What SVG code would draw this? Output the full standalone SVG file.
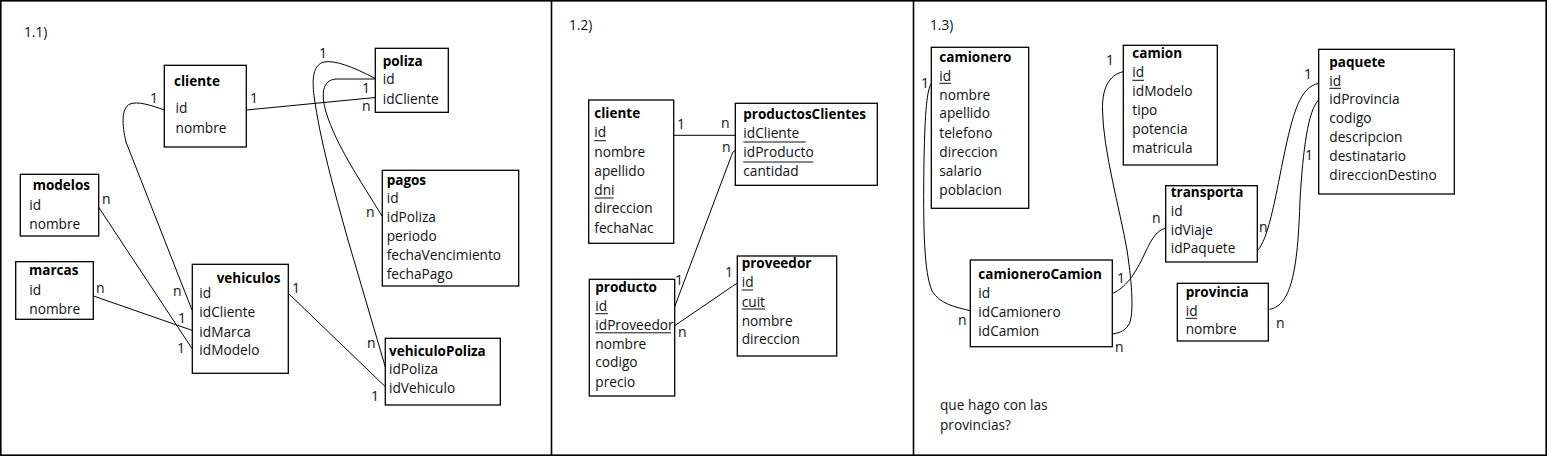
<svg xmlns="http://www.w3.org/2000/svg" width="1552" height="458" viewBox="0 0 1552 458">
<style>
.bg{fill:#fff}
.frame{fill:none;stroke:#000;stroke-width:1.6}
.box{fill:#fff;stroke:#000;stroke-width:1.3}
.t{font-family:"Open Sans","Noto Sans","DejaVu Sans",sans-serif;font-size:13.7px;fill:#111}
.h{font-family:"Open Sans","Noto Sans","DejaVu Sans",sans-serif;font-size:13.5px;font-weight:bold;fill:#000}
.c{font-family:"Open Sans","Noto Sans","DejaVu Sans",sans-serif;font-size:14px;fill:#111}
.u{stroke:#111;stroke-width:1}
.ln{fill:none;stroke:#000;stroke-width:1}
</style>
<rect class="bg" x="0" y="0" width="1552" height="458"/>
<rect class="frame" x="0.8" y="0.8" width="1545.4" height="454.4"/>
<line class="frame" x1="551.5" y1="0" x2="551.5" y2="456"/>
<line class="frame" x1="913.5" y1="0" x2="913.5" y2="456"/>
<text class="t" x="24" y="37">1.1)</text>
<text class="t" x="569" y="30">1.2)</text>
<text class="t" x="930" y="30">1.3)</text>

<g id="connectors">
<!-- 1.1 -->
<path class="ln" d="M246.5,110 L375.3,97.5"/>
<path class="ln" d="M376,79 C352,66 334,60 324,62 C313,65 312,78 314,96 C320,140 334,190 348,240 L385.3,367"/>
<path class="ln" d="M376,79 L336,79 C322,80 321,95 326,112 C336,145 360,180 382,216"/>
<path class="ln" d="M164.5,110 C150,105 138,101 130,104 C121,108 122,125 126,142 L192,310"/>
<path class="ln" d="M98.5,207 L192,348.5"/>
<path class="ln" d="M93.5,296 L192.5,330.5"/>
<path class="ln" d="M288.5,293.5 L385.3,386.7"/>
<!-- 1.2 -->
<path class="ln" d="M673.7,135.3 L735.3,135.3"/>
<path class="ln" d="M735.5,150 Q732,152 731.5,155.5 L674.7,306.7"/>
<path class="ln" d="M674.7,325.7 L727,290 Q733,285.5 737.3,283.3"/>
<!-- 1.3 -->
<path class="ln" d="M931.3,83.3 C927,90 925,110 924,160 C923,230 924,272 932,291 C940,304 955,307 970.3,310.7"/>
<path class="ln" d="M1123.3,71.7 C1108,75 1102,90 1102.5,110 C1103,150 1120,210 1127,250 C1133,290 1133,312 1130,322 C1127,330 1120,333 1112.3,334"/>
<path class="ln" d="M1112.5,293.5 C1125,288 1135,275 1145,253 C1152,238 1157,230 1165.7,228.3"/>
<path class="ln" d="M1257.3,250.7 C1268,240 1275,200 1283,160 C1293,112 1300,87 1318.7,83.3"/>
<path class="ln" d="M1318.7,100 C1308,110 1303,150 1300,200 C1298,262 1293,306 1269.3,309.3"/>
</g>

<g id="cardinalities">
<text class="c" x="250" y="103">1</text>
<text class="c" x="362" y="93">1</text>
<text class="c" x="362" y="111">n</text>
<text class="c" x="319" y="58">1</text>
<text class="c" x="366" y="217">n</text>
<text class="c" x="150" y="103">1</text>
<text class="c" x="173" y="296">n</text>
<text class="c" x="102" y="204">n</text>
<text class="c" x="177" y="353">1</text>
<text class="c" x="96" y="293">n</text>
<text class="c" x="178" y="323">1</text>
<text class="c" x="292" y="293">1</text>
<text class="c" x="371" y="401">1</text>
<text class="c" x="367" y="348">n</text>
<text class="c" x="677" y="129">1</text>
<text class="c" x="721" y="128">n</text>
<text class="c" x="722" y="152">n</text>
<text class="c" x="675" y="285">1</text>
<text class="c" x="725" y="277">1</text>
<text class="c" x="678" y="337">n</text>
<text class="c" x="921" y="88">1</text>
<text class="c" x="958" y="325">n</text>
<text class="c" x="1106" y="65">1</text>
<text class="c" x="1115" y="352">n</text>
<text class="c" x="1117" y="283">1</text>
<text class="c" x="1152" y="223">n</text>
<text class="c" x="1259" y="232">n</text>
<text class="c" x="1304" y="79">1</text>
<text class="c" x="1305" y="160">1</text>
<text class="c" x="1276" y="328">n</text>
</g>

<g id="cliente11">
<rect class="box" x="164.3" y="65.3" width="82" height="81.7"/>
<text class="h" x="174" y="86">cliente</text>
<text class="t" x="175.5" y="113">id</text>
<text class="t" x="175.5" y="132.7">nombre</text>
</g>
<g id="poliza">
<rect class="box" x="375.3" y="48.3" width="73" height="64"/>
<text class="h" x="382.7" y="66">poliza</text>
<text class="t" x="382.7" y="84.3">id</text>
<text class="t" x="382.7" y="103.7">idCliente</text>
</g>
<g id="modelos">
<rect class="box" x="20.3" y="174.3" width="78.4" height="61.7"/>
<text class="h" x="32.7" y="190">modelos</text>
<text class="t" x="29.3" y="210">id</text>
<text class="t" x="29.3" y="229">nombre</text>
</g>
<g id="marcas">
<rect class="box" x="15.7" y="261.7" width="77.6" height="57.6"/>
<text class="h" x="29" y="275">marcas</text>
<text class="t" x="29.3" y="295">id</text>
<text class="t" x="29.3" y="314">nombre</text>
</g>
<g id="vehiculos">
<rect class="box" x="192.3" y="264.3" width="96" height="109"/>
<text class="h" x="216.7" y="283.3">vehiculos</text>
<text class="t" x="199.3" y="298.3">id</text>
<text class="t" x="199.3" y="317.3">idCliente</text>
<text class="t" x="199.3" y="336.7">idMarca</text>
<text class="t" x="199.3" y="355.3">idModelo</text>
</g>
<g id="pagos">
<rect class="box" x="382.3" y="170.3" width="136.4" height="115.7"/>
<text class="h" x="386.7" y="185">pagos</text>
<text class="t" x="386.7" y="203.3">id</text>
<text class="t" x="386.7" y="222.3">idPoliza</text>
<text class="t" x="386.7" y="241">periodo</text>
<text class="t" x="386.7" y="260">fechaVencimiento</text>
<text class="t" x="386.7" y="279">fechaPago</text>
</g>
<g id="vehiculoPoliza">
<rect class="box" x="385.3" y="338.3" width="115" height="66.7"/>
<text class="h" x="389" y="355.7">vehiculoPoliza</text>
<text class="t" x="389" y="374">idPoliza</text>
<text class="t" x="389" y="393.3">idVehiculo</text>
</g>

<g id="cliente12">
<rect class="box" x="588.7" y="100" width="85" height="143.3"/>
<text class="h" x="594.3" y="118.3">cliente</text>
<text class="t" x="594.3" y="137.3">id</text>
<line class="u" x1="594.3" y1="140.7" x2="606" y2="140.7"/>
<text class="t" x="594.3" y="156.7">nombre</text>
<text class="t" x="594.3" y="175.7">apellido</text>
<text class="t" x="594.3" y="195">dni</text>
<line class="u" x1="594.3" y1="198" x2="613.5" y2="198"/>
<text class="t" x="594.3" y="213.3">direccion</text>
<text class="t" x="594.3" y="232.7">fechaNac</text>
</g>
<g id="productosClientes">
<rect class="box" x="735.3" y="103.3" width="142" height="82"/>
<text class="h" x="743.3" y="119.3">productosClientes</text>
<text class="t" x="743.3" y="138.3">idCliente </text>
<line class="u" x1="743.3" y1="142" x2="805.7" y2="142"/>
<text class="t" x="743.3" y="157.3">idProducto</text>
<line class="u" x1="743.3" y1="162" x2="813.3" y2="162"/>
<text class="t" x="743.3" y="176">cantidad</text>
</g>
<g id="producto">
<rect class="box" x="589.3" y="279.3" width="85.4" height="116.7"/>
<text class="h" x="595.3" y="291.7">producto</text>
<text class="t" x="595.3" y="310.7">id</text>
<line class="u" x1="595.3" y1="313.7" x2="608" y2="313.7"/>
<text class="t" x="595.3" y="330">idProveedor</text>
<line class="u" x1="595.3" y1="332.8" x2="671" y2="332.8"/>
<text class="t" x="595.3" y="349.3">nombre</text>
<text class="t" x="595.3" y="367.3">codigo</text>
<text class="t" x="595.3" y="386.7">precio</text>
</g>
<g id="proveedor">
<rect class="box" x="737.3" y="256" width="99.4" height="100"/>
<text class="h" x="741.7" y="268.3">proveedor</text>
<text class="t" x="741.7" y="287.3">id</text>
<line class="u" x1="741.7" y1="290" x2="753" y2="290"/>
<text class="t" x="741.7" y="306.7">cuit</text>
<line class="u" x1="741.7" y1="309" x2="765" y2="309"/>
<text class="t" x="741.7" y="325.7">nombre</text>
<text class="t" x="741.7" y="344">direccion</text>
</g>

<g id="camionero">
<rect class="box" x="931.3" y="47.3" width="97.4" height="161"/>
<text class="h" x="939.3" y="61.7">camionero</text>
<text class="t" x="939.3" y="80.7">id</text>
<line class="u" x1="939.3" y1="83.3" x2="951" y2="83.3"/>
<text class="t" x="939.3" y="100">nombre</text>
<text class="t" x="939.3" y="118.3">apellido</text>
<text class="t" x="939.3" y="137.7">telefono</text>
<text class="t" x="939.3" y="156.7">direccion</text>
<text class="t" x="939.3" y="176">salario</text>
<text class="t" x="939.3" y="195">poblacion</text>
</g>
<g id="camion">
<rect class="box" x="1123.3" y="45.3" width="94" height="119.7"/>
<text class="h" x="1132.3" y="58.3">camion</text>
<text class="t" x="1132.3" y="77.3">id</text>
<line class="u" x1="1132.3" y1="80.3" x2="1144" y2="80.3"/>
<text class="t" x="1132.3" y="96">idModelo</text>
<text class="t" x="1132.3" y="115">tipo</text>
<text class="t" x="1132.3" y="134">potencia</text>
<text class="t" x="1132.3" y="152.7">matricula</text>
</g>
<g id="transporta">
<rect class="box" x="1165.7" y="185.7" width="91.6" height="76.3"/>
<text class="h" x="1170.7" y="196.7">transporta</text>
<text class="t" x="1170.7" y="215.7">id</text>
<text class="t" x="1170.7" y="235">idViaje</text>
<text class="t" x="1170.7" y="253.3">idPaquete</text>
</g>
<g id="camioneroCamion">
<rect class="box" x="970.3" y="260" width="142" height="86.7"/>
<text class="h" x="978.3" y="279.3">camioneroCamion</text>
<text class="t" x="978.3" y="298.3">id</text>
<text class="t" x="978.3" y="317.3">idCamionero</text>
<text class="t" x="978.3" y="336">idCamion</text>
</g>
<g id="provincia">
<rect class="box" x="1177.3" y="283.3" width="91" height="57.7"/>
<text class="h" x="1185.7" y="296.7">provincia</text>
<text class="t" x="1185.7" y="315.7">id</text>
<line class="u" x1="1185.7" y1="318.3" x2="1197" y2="318.3"/>
<text class="t" x="1185.7" y="334.3">nombre</text>
</g>
<g id="paquete">
<rect class="box" x="1318.7" y="49.3" width="135.6" height="144.7"/>
<text class="h" x="1329.3" y="66.7">paquete</text>
<text class="t" x="1329.3" y="85.7">id</text>
<line class="u" x1="1329.3" y1="88.3" x2="1341" y2="88.3"/>
<text class="t" x="1329.3" y="104.3">idProvincia</text>
<text class="t" x="1329.3" y="123.3">codigo</text>
<text class="t" x="1329.3" y="142.3">descripcion</text>
<text class="t" x="1329.3" y="161">destinatario</text>
<text class="t" x="1329.3" y="180">direccionDestino</text>
</g>
<g id="note">
<text class="t" x="940" y="410">que hago con las</text>
<text class="t" x="940" y="430">provincias?</text>
</g>
</svg>
